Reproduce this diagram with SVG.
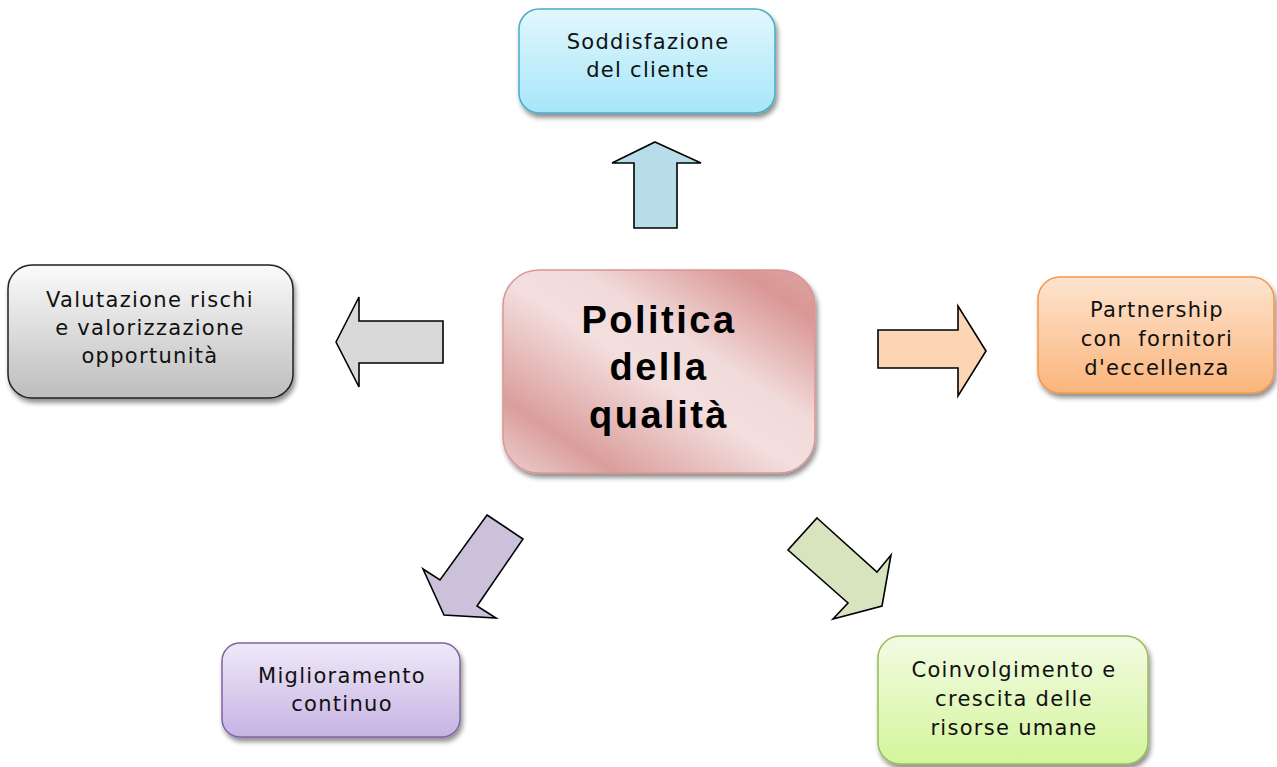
<svg xmlns="http://www.w3.org/2000/svg" width="1277" height="767" viewBox="0 0 1277 767">
<defs>
<filter id="sh" x="-10%" y="-10%" width="125%" height="130%">
<feGaussianBlur in="SourceAlpha" stdDeviation="2.5"/>
<feOffset dx="2" dy="4" result="b"/>
<feComponentTransfer><feFuncA type="linear" slope="0.45"/></feComponentTransfer>
<feMerge><feMergeNode/><feMergeNode in="SourceGraphic"/></feMerge>
</filter>
<linearGradient id="gBlue" x1="0" y1="0" x2="0" y2="1"><stop offset="0" stop-color="#e2f7fd"/><stop offset="1" stop-color="#a6e6f9"/></linearGradient>
<linearGradient id="gGray" x1="0" y1="0" x2="0" y2="1"><stop offset="0" stop-color="#fbfbfb"/><stop offset="1" stop-color="#bdbdbd"/></linearGradient>
<linearGradient id="gOrange" x1="0" y1="0" x2="0" y2="1"><stop offset="0" stop-color="#fde4d0"/><stop offset="1" stop-color="#fbb57c"/></linearGradient>
<linearGradient id="gPurple" x1="0" y1="0" x2="0" y2="1"><stop offset="0" stop-color="#efe9f8"/><stop offset="1" stop-color="#c6b3e4"/></linearGradient>
<linearGradient id="gGreen" x1="0" y1="0" x2="0" y2="1"><stop offset="0" stop-color="#f2fbe3"/><stop offset="1" stop-color="#d4f59c"/></linearGradient>
<linearGradient id="gPink" x1="0" y1="1" x2="1" y2="0"><stop offset="0" stop-color="#ecd0cf"/><stop offset="0.18" stop-color="#da9e9c"/><stop offset="0.48" stop-color="#f3dfde"/><stop offset="0.62" stop-color="#f1dbda"/><stop offset="0.88" stop-color="#d99694"/><stop offset="1" stop-color="#dfa5a3"/></linearGradient>
<style>
.t{font-family:"DejaVu Sans",Verdana,sans-serif;font-size:21px;letter-spacing:1.3px;fill:#111;text-anchor:middle}
.c{font-family:"Liberation Sans",Arial,sans-serif;font-weight:bold;font-size:38px;letter-spacing:2.5px;fill:#000;text-anchor:middle}
.arr{stroke:#000;stroke-width:1.6;stroke-linejoin:miter}
</style>
</defs>
<g id="connectors">
<polygon class="arr" fill="#b7dde8" points="655,142 701,163 677,163 677,228 634,228 634,163 612,163"/>
<polygon class="arr" fill="#d9d9d9" points="336,342 359,297 359,321 443,321 443,363 359,363 359,387"/>
<polygon class="arr" fill="#fcd5b5" points="986,351 958,306 958,330 878,330 878,368 958,368 958,396"/>
<polygon class="arr" fill="#ccc1da" points="487,515 523,539 477,606 496,618 444,615 423,569 440,580"/>
<polygon class="arr" fill="#d7e4bd" points="817,518 877,572 891,555 882,606 833,619 848,603 788,550"/>
</g>
<g id="center">
<rect x="503" y="270" width="312" height="203" rx="36" fill="url(#gPink)" stroke="#d99694" stroke-width="1.5" filter="url(#sh)"/>
<text class="c" x="659" y="333">Politica</text>
<text class="c" x="659" y="380">della</text>
<text class="c" x="659" y="428">qualità</text>
</g>
<g id="soddisfazione">
<rect x="519" y="9" width="256" height="104" rx="20" fill="url(#gBlue)" stroke="#4bacc6" stroke-width="1.5" filter="url(#sh)"/>
<text class="t" x="648" y="49">Soddisfazione</text>
<text class="t" x="648" y="77">del cliente</text>
</g>
<g id="valutazione">
<rect x="8" y="265" width="285" height="133" rx="24" fill="url(#gGray)" stroke="#222" stroke-width="1.5" filter="url(#sh)"/>
<text class="t" x="150" y="307">Valutazione rischi</text>
<text class="t" x="150" y="335">e valorizzazione</text>
<text class="t" x="150" y="363">opportunità</text>
</g>
<g id="partnership">
<rect x="1038" y="277" width="236" height="116" rx="22" fill="url(#gOrange)" stroke="#f79646" stroke-width="1.5" filter="url(#sh)"/>
<text class="t" x="1157" y="317">Partnership</text>
<text class="t" x="1157" y="346" xml:space="preserve">con  fornitori</text>
<text class="t" x="1157" y="375">d'eccellenza</text>
</g>
<g id="miglioramento">
<rect x="222" y="643" width="238" height="94" rx="18" fill="url(#gPurple)" stroke="#8064a2" stroke-width="1.5" filter="url(#sh)"/>
<text class="t" x="342" y="683">Miglioramento</text>
<text class="t" x="342" y="711">continuo</text>
</g>
<g id="coinvolgimento">
<rect x="878" y="636" width="270" height="128" rx="22" fill="url(#gGreen)" stroke="#9bbb59" stroke-width="1.5" filter="url(#sh)"/>
<text class="t" x="1014" y="677">Coinvolgimento e</text>
<text class="t" x="1014" y="706">crescita delle</text>
<text class="t" x="1014" y="735">risorse umane</text>
</g>
</svg>
